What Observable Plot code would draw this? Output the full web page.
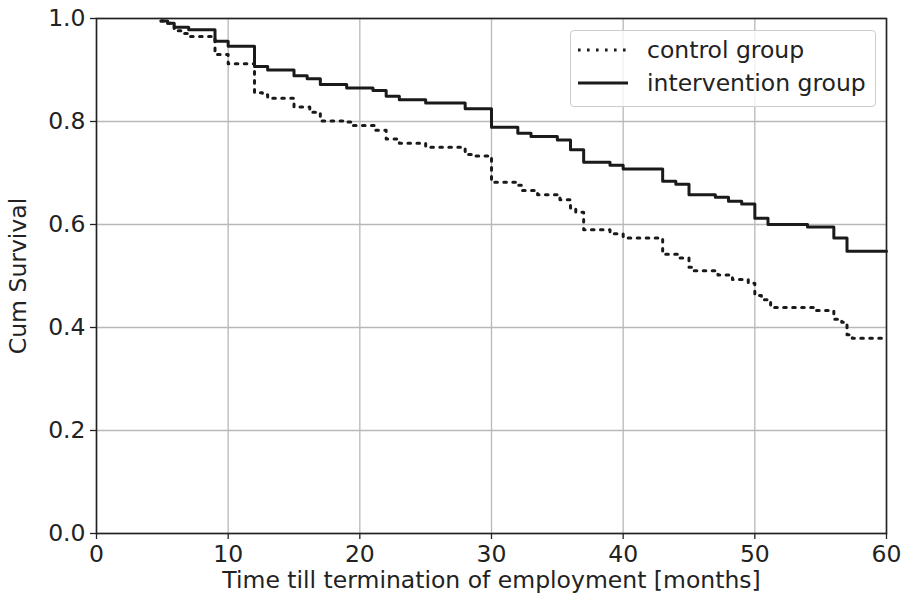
<!DOCTYPE html>
<html>
<head>
<meta charset="utf-8">
<script src="https://cdn.jsdelivr.net/npm/d3@7"></script>
<script src="https://cdn.jsdelivr.net/npm/@observablehq/plot@0.6"></script>
<style>
  body { margin: 0; background: white; }
  #wrap { position: relative; width: 909px; height: 605px; font-family: "DejaVu Sans", sans-serif; }
  #legend { position: absolute; left: 570px; top: 30px; width: 306px; height: 77px;
    border: 1px solid #cccccc; border-radius: 4px; background: rgba(255,255,255,0.8);
    box-sizing: border-box; }
  .item { position: absolute; left: 7px; height: 28px; display: flex; align-items: center;
    font-size: 23.5px; color: #222; white-space: nowrap; }
  .item svg { margin-right: 19px; }
</style>
</head>
<body>
<div id="wrap">
  <div id="chart"></div>
  <div id="legend">
    <div class="item" style="top:5px"><svg width="50" height="6"><line x1="0" x2="50" y1="3" y2="3" stroke="#1a1a1a" stroke-width="3" stroke-dasharray="2.6,6.4"/></svg><span id="lab0"></span></div>
    <div class="item" style="top:38px"><svg width="50" height="6"><line x1="0" x2="50" y1="3" y2="3" stroke="#1a1a1a" stroke-width="3"/></svg><span id="lab1"></span></div>
  </div>
</div>
<script>
const groups = ["control group", "intervention group"];

const controlTime = [4.9, 5.4, 5.9, 6.6, 7, 9, 10, 12, 12.6, 13, 15, 16.2, 17, 19, 19.5, 21.2, 22, 23, 25, 28, 28.5, 30, 32, 32.3, 33.5, 35.2, 36, 36.4, 37, 39, 40, 43, 44.2, 45, 45.3, 47.2, 48.3, 49.5, 50, 50.5, 51.2, 54.5, 56, 56.6, 57, 57.4, 60];
const controlSurv = [0.995, 0.991, 0.976, 0.971, 0.965, 0.930, 0.912, 0.856, 0.852, 0.845, 0.828, 0.818, 0.801, 0.799, 0.792, 0.783, 0.766, 0.758, 0.750, 0.736, 0.733, 0.682, 0.676, 0.666, 0.658, 0.648, 0.632, 0.624, 0.590, 0.582, 0.574, 0.542, 0.535, 0.517, 0.510, 0.502, 0.493, 0.486, 0.462, 0.454, 0.439, 0.433, 0.416, 0.410, 0.386, 0.379, 0.379];

const interventionTime = [4.9, 5.4, 5.9, 7, 9, 10, 12, 13, 15, 16, 17, 19, 21, 22, 23, 25, 28, 30, 32, 33, 35, 36, 37, 39, 40, 43, 44, 45, 47, 48, 49, 50, 51, 54, 56, 57, 60];
const interventionSurv = [0.995, 0.991, 0.983, 0.978, 0.956, 0.946, 0.907, 0.900, 0.889, 0.883, 0.872, 0.865, 0.860, 0.849, 0.842, 0.836, 0.825, 0.789, 0.777, 0.771, 0.764, 0.745, 0.721, 0.715, 0.708, 0.684, 0.678, 0.658, 0.653, 0.645, 0.640, 0.612, 0.600, 0.595, 0.574, 0.548, 0.548];

const xTicks = [0, 10, 20, 30, 40, 50, 60];
const yTicks = [0, 0.2, 0.4, 0.6, 0.8, 1.0];
const xLabel = "Time till termination of employment [months]";
const yLabel = "Cum Survival";

const control = controlTime.map((t, i) => ({t, s: controlSurv[i]}));
const intervention = interventionTime.map((t, i) => ({t, s: interventionSurv[i]}));

document.getElementById("lab0").textContent = groups[0];
document.getElementById("lab1").textContent = groups[1];

const chart = Plot.plot({
  width: 909,
  height: 605,
  marginLeft: 96,
  marginRight: 23,
  marginTop: 18,
  marginBottom: 72,
  x: {domain: [0, 60]},
  y: {domain: [0, 1]},
  style: {fontFamily: "DejaVu Sans", fontSize: "23.5px", color: "#222", background: "white", overflow: "visible"},
  marks: [
    Plot.gridX(xTicks, {stroke: "#b8b8b8", strokeOpacity: 1, strokeWidth: 1.3}),
    Plot.gridY(yTicks, {stroke: "#b8b8b8", strokeOpacity: 1, strokeWidth: 1.3}),
    Plot.axisX(xTicks, {tickSize: 6, tickPadding: 6, fontSize: 23.5, label: xLabel, labelAnchor: "center", labelOffset: 54, labelArrow: "none", strokeWidth: 1.3, stroke: "#222"}),
    Plot.axisY(yTicks, {tickSize: 6, tickPadding: 5, fontSize: 23.5, tickFormat: d3.format(".1f"), label: yLabel, labelAnchor: "center", labelOffset: 87, labelArrow: "none", strokeWidth: 1.3, stroke: "#222"}),
    Plot.line(control, {x: "t", y: "s", curve: "step-after", stroke: "#1a1a1a", strokeWidth: 3, strokeDasharray: "2.6,6.4"}),
    Plot.line(intervention, {x: "t", y: "s", curve: "step-after", stroke: "#1a1a1a", strokeWidth: 3}),
    Plot.frame({stroke: "#222", strokeWidth: 1.6})
  ]
});
document.getElementById("chart").appendChild(chart);
</script>
</body>
</html>
